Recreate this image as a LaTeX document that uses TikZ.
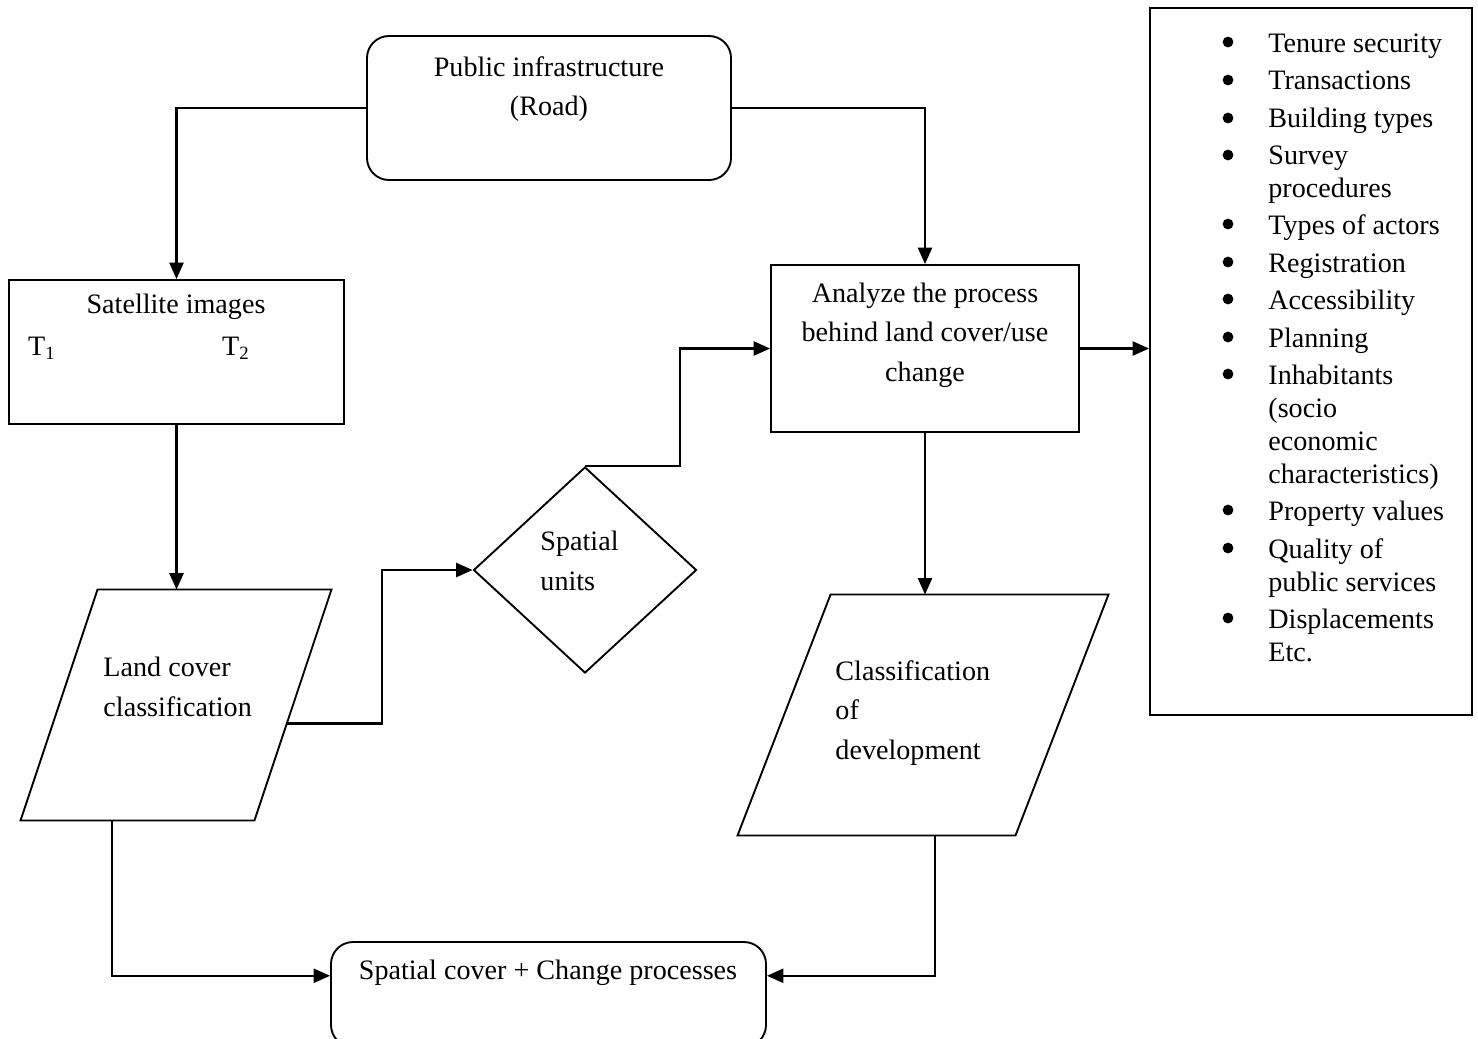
\documentclass[tikz,border=0pt]{standalone}
\usepackage{fontspec}
\setmainfont{Liberation Serif}
\usetikzlibrary{shapes.geometric,arrows.meta,calc}

\newcommand\bitem[1]{\hspace*{19.6pt}#1}

\tikzset{
  outline/.style={draw, line width=0.8pt, inner sep=0pt},
  box/.style={outline, rectangle},
  roundbox/.style={box, rounded corners=0.33cm},
  frame/.style={rectangle, inner sep=0pt},
  decision/.style={outline, diamond},
  txt/.style={font=\fontsize{12}{16.8}\selectfont, inner sep=0pt},
  link/.style={line width=0.9pt, -{Triangle[length=7pt,width=6pt]}},
  plainlink/.style={line width=0.9pt}
}

\begin{document}
\begin{tikzpicture}[x=0.015cm, y=-0.015cm]
        \path[clip, use as bounding box] (0,0) rectangle (1478,1038);

        % shapes
        \node[roundbox, minimum width=5.46cm, minimum height=2.16cm] (pub) at (549,108) {};
        \node[box, minimum width=5.025cm, minimum height=2.16cm] (sat) at (176.5,352) {};
        \node[box, minimum width=4.62cm, minimum height=2.505cm] (an) at (925,348.5) {};
        \node[box, minimum width=4.83cm, minimum height=10.605cm] (items) at (1311,361.5) {};
        \node[decision, minimum width=3.345cm, minimum height=3.09cm] (su) at (585,570) {};
        \node[roundbox, minimum width=6.525cm, minimum height=1.575cm] (out) at (548.5,994.5) {};

        % parallelograms
        \node[frame, minimum width=4.65cm, minimum height=3.45cm] (lc) at (176,705) {};
        \coordinate (lc-tl) at ($(lc.north west)+(77,0)$);
        \coordinate (lc-br) at ($(lc.south east)+(-77,0)$);
        \draw[line width=0.8pt] (lc-tl) -- (lc.north east) -- (lc-br) -- (lc.south west) -- cycle;
        \node[frame, minimum width=5.55cm, minimum height=3.6cm] (cd) at (923,715) {};
        \coordinate (cd-tl) at ($(cd.north west)+(93,0)$);
        \coordinate (cd-br) at ($(cd.south east)+(-93,0)$);
        \draw[line width=0.8pt] (cd-tl) -- (cd.north east) -- (cd-br) -- (cd.south west) -- cycle;

        % texts
        \node[txt, align=center] (pubtext) at (549,89) {Public infrastructure\\(Road)};
        \node[txt] (sattext) at (176,307) {Satellite images};
        \node[txt] (tone) at (42,348) {T\textsubscript{1}};
        \node[txt] (ttwo) at (236,348) {T\textsubscript{2}};
        \node[txt, align=center] (antext) at (925,335) {Analyze the process\\behind land cover/use\\change};
        \node[txt, align=left, anchor=west] (lctext) at (103,687) {Land cover\\classification};
        \node[txt, align=left, anchor=west] (sutext) at (540,561) {Spatial\\units};
        \node[txt, align=left, anchor=west] (cdtext) at (835,713) {Classification\\of\\development};
        \node[txt] (outtext) at (548,973) {Spatial cover + Change processes};
        \node[txt, font=\fontsize{12}{14}\selectfont, align=left, anchor=north west] (itemtext) at (1222,33) {%
            \bitem{Tenure security}\\[2pt]
            \bitem{Transactions}\\[2pt]
            \bitem{Building types}\\[2pt]
            \bitem{Survey}\\ \bitem{procedures}\\[2pt]
            \bitem{Types of actors}\\[2pt]
            \bitem{Registration}\\[2pt]
            \bitem{Accessibility}\\[2pt]
            \bitem{Planning}\\[2pt]
            \bitem{Inhabitants}\\ \bitem{(socio}\\ \bitem{economic}\\ \bitem{characteristics)}\\[2pt]
            \bitem{Property values}\\[2pt]
            \bitem{Quality of}\\ \bitem{public services}\\[2pt]
            \bitem{Displacements}\\ \bitem{Etc.}};

        % bullets
        \foreach \y in {42,80,118,155,224,262,299,337,374,510,548,618}
            \fill (1228,\y) circle (2.3pt);

        % connectors
        \draw[link] (pub.west) -| (sat.north);
        \draw[link] (pub.east) -| (an.north);
        \draw[link] (sat.south) -- (sat.south |- lc.north);
        \draw[link] ($(lc-br)!0.42!(lc.north east)$) -- ++(95,0) |- (su.west);
        \draw[link] (su.north) -- ++(95,0) |- (an.west);
        \draw[link] (an.east) -- (an.east -| items.west);
        \draw[link] (an.south) -- (an.south |- cd.north);
        \draw[link] ($(lc.south west)!0.39!(lc-br)$) |- ([yshift=8pt]out.west);
        \draw[link] ($(cd.south west)!0.71!(cd-br)$) |- ([yshift=8pt]out.east);
    \end{tikzpicture}
\end{document}
